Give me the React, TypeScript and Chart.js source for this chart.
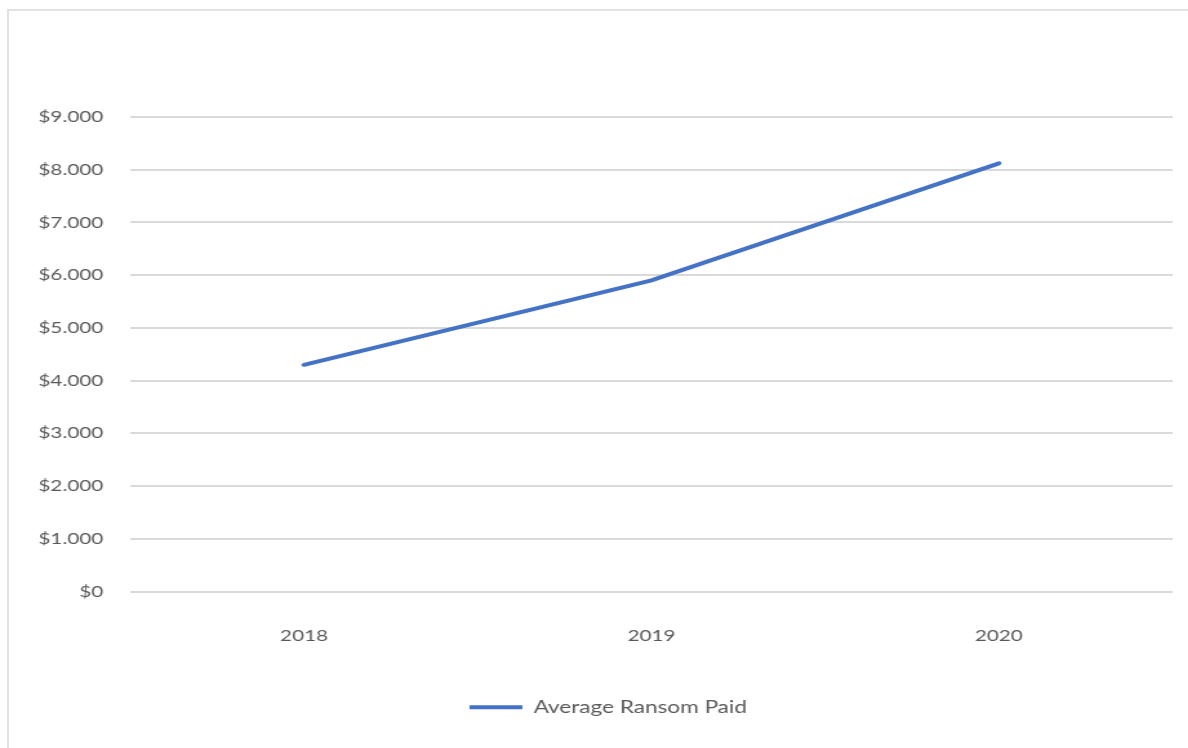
import React, { useEffect, useRef } from "react";
import { Chart, registerables } from "chart.js";

Chart.register(...registerables);

const years = ["2018", "2019", "2020"];
const averageRansomPaid = [4300, 5900, 8120];
const seriesLabel = "Average Ransom Paid";
const yMin = 0;
const yMax = 9000;
const yStep = 1000;

const SX = 1.29;
const CW = Math.round(1188 / SX);
const CH = 748;
const LEGEND_SHIFT = 17;

function fmt(v: number): string {
  return "$" + String(Math.round(v)).replace(/\B(?=(\d{3})+(?!\d))/g, ".");
}

export default function App() {
  const ref = useRef<HTMLCanvasElement | null>(null);

  useEffect(() => {
    if (!ref.current) return;
    const font = { family: "Lato, 'Open Sans', sans-serif", size: 16 };
    const legendFont = { family: "Lato, 'Open Sans', sans-serif", size: 17.5 };
    const shiftLegend = {
      id: "shiftLegend",
      afterLayout(chart: any) {
        const lg = chart.legend;
        if (lg) {
          lg.left += LEGEND_SHIFT;
          lg.right += LEGEND_SHIFT;
        }
      },
    };
    const chart = new Chart(ref.current, {
      type: "line",
      data: {
        labels: years,
        datasets: [
          {
            label: seriesLabel,
            data: averageRansomPaid,
            borderColor: "#4472C4",
            backgroundColor: "#4472C4",
            borderWidth: 4,
            pointRadius: 0,
            tension: 0,
            borderCapStyle: "round",
          },
        ],
      },
      options: {
        responsive: false,
        animation: false,
        devicePixelRatio: 1,
        layout: { padding: { top: 117, left: 0, right: 12, bottom: 22 } },
        scales: {
          x: {
            offset: true,
            grid: { display: false, drawTicks: false },
            border: { display: false },
            ticks: { color: "#595959", font, padding: 35 },
            afterFit: (s: any) => {
              s.height = 97;
            },
          },
          y: {
            min: yMin,
            max: yMax,
            grid: { color: "#d9d9d9", lineWidth: 2, drawTicks: false },
            border: { display: false },
            ticks: {
              stepSize: yStep,
              color: "#595959",
              font,
              padding: 21,
              callback: (v: any) => fmt(Number(v)),
            },
            afterFit: (s: any) => {
              s.width = 101;
            },
          },
        },
        plugins: {
          legend: {
            position: "bottom",
            labels: {
              color: "#595959",
              font: legendFont,
              boxWidth: 41,
              boxHeight: 4,
              padding: 10,
              generateLabels: (c: any) =>
                Chart.defaults.plugins.legend.labels
                  .generateLabels(c)
                  .map((l: any) => ({ ...l, lineWidth: 0 })),
            },
          },
          tooltip: { enabled: false },
        },
      },
      plugins: [shiftLegend],
    });
    return () => chart.destroy();
  }, []);

  return (
    <div
      style={{
        position: "fixed",
        left: 0,
        top: 0,
        width: 1188,
        height: 748,
        background: "#fff",
        overflow: "hidden",
      }}
    >
      <div
        style={{
          position: "absolute",
          left: 7,
          top: 9,
          width: 1300,
          height: 800,
          borderLeft: "2px solid #e2e2e2",
          borderTop: "2px solid #e2e2e2",
        }}
      />
      <div
        style={{
          position: "absolute",
          left: 0,
          top: 0,
          width: CW,
          height: CH,
          transform: `scaleX(${SX})`,
          transformOrigin: "0 0",
        }}
      >
        <canvas ref={ref} width={CW} height={CH} style={{ display: "block" }} />
      </div>
    </div>
  );
}
